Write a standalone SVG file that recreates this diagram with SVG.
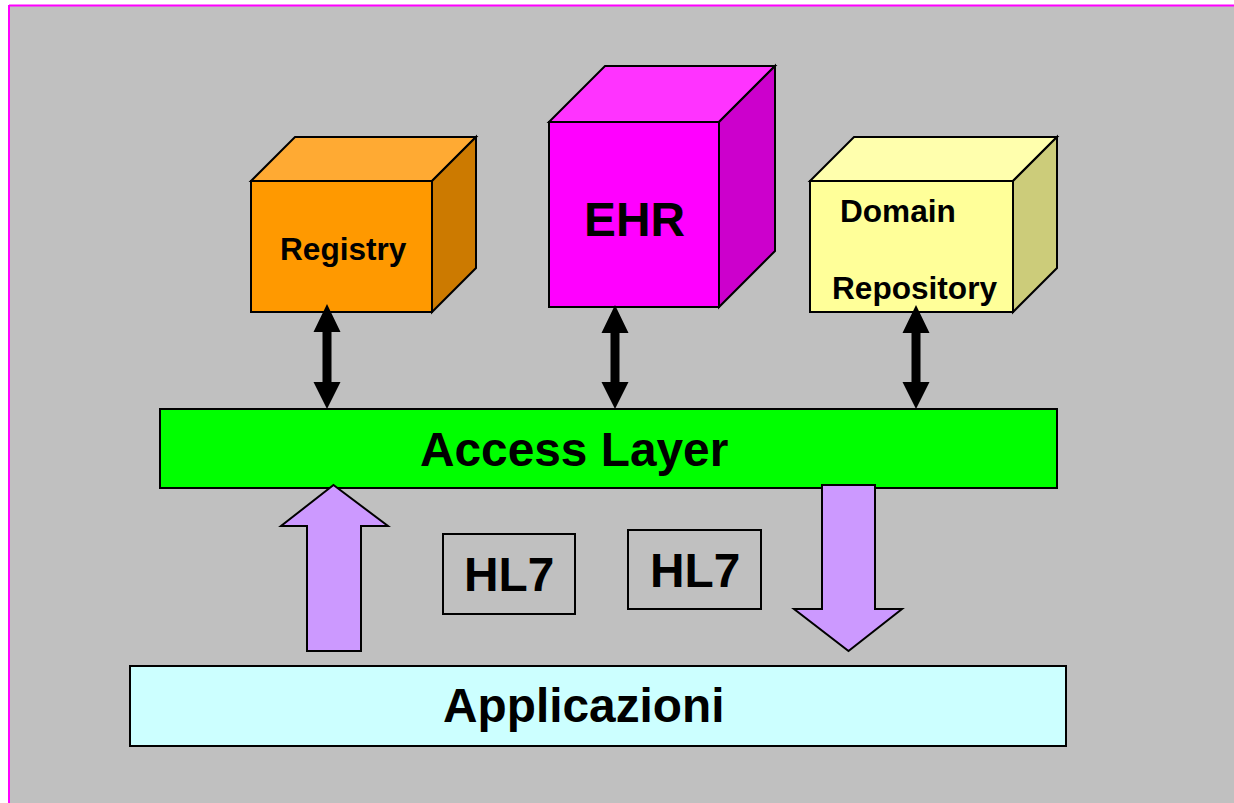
<svg xmlns="http://www.w3.org/2000/svg" width="1234" height="803" viewBox="0 0 1234 803">
  <style>
    .edge { stroke: #000; stroke-width: 2; stroke-linejoin: miter; }
    .lbl { font-family: "Liberation Sans", Arial, sans-serif; font-weight: bold; fill: #000; }
    .small { font-size: 31.6px; }
    .big { font-size: 47.8px; }
    .flow { fill: #CC99FF; stroke: #000; stroke-width: 2; }
  </style>

  <!-- slide background with frame -->
  <rect x="0" y="0" width="1234" height="803" fill="#FFFFFF"/>
  <rect x="9" y="6" width="1225" height="797" fill="#C0C0C0"/>
  <line x1="9" y1="5.5" x2="1234" y2="5.5" stroke="#FF00FF" stroke-width="2"/>
  <line x1="9" y1="5" x2="9" y2="803" stroke="#FF00FF" stroke-width="2"/>

  <!-- Registry cube -->
  <g id="registry">
    <polygon class="edge" fill="#FFAA33" points="251,181 295,137 476,137 432,181"/>
    <polygon class="edge" fill="#CC7A00" points="432,181 476,137 476,268 432,312"/>
    <rect class="edge" x="251" y="181" width="181" height="131" fill="#FF9900"/>
    <text class="lbl small" x="280" y="260">Registry</text>
  </g>

  <!-- EHR cube -->
  <g id="ehr">
    <polygon class="edge" fill="#FF33FF" points="549,122 605,66 775,66 719,122"/>
    <polygon class="edge" fill="#CC00CC" points="719,122 775,66 775,251 719,307"/>
    <rect class="edge" x="549" y="122" width="170" height="185" fill="#FF00FF"/>
    <text class="lbl big" x="584" y="236">EHR</text>
  </g>

  <!-- Domain Repository cube -->
  <g id="domain-repository">
    <polygon class="edge" fill="#FFFFAD" points="810,181 854,137 1057,137 1013,181"/>
    <polygon class="edge" fill="#CCCC7A" points="1013,181 1057,137 1057,268 1013,312"/>
    <rect class="edge" x="810" y="181" width="203" height="131" fill="#FFFF99"/>
    <text class="lbl small" x="840" y="222">Domain</text>
    <text class="lbl small" x="832" y="299">Repository</text>
  </g>

  <!-- Access Layer bar -->
  <g id="access-layer">
    <rect class="edge" x="160" y="409" width="897" height="79" fill="#00FF00"/>
    <text class="lbl big" x="420" y="466">Access Layer</text>
  </g>

  <!-- Applicazioni bar -->
  <g id="applicazioni">
    <rect class="edge" x="130" y="666" width="936" height="80" fill="#CCFFFF"/>
    <text class="lbl big" x="443" y="722">Applicazioni</text>
  </g>

  <!-- HL7 labels -->
  <g id="hl7-in">
    <rect class="edge" x="443" y="534" width="132" height="80" fill="none"/>
    <text class="lbl big" x="464" y="591">HL7</text>
  </g>
  <g id="hl7-out">
    <rect class="edge" x="628" y="530" width="133" height="79" fill="none"/>
    <text class="lbl big" x="650" y="587">HL7</text>
  </g>

  <!-- connectors -->
  <g id="connectors">
    <!-- bidirectional links between stores and the access layer -->
    <polygon fill="#000" points="327,304 340.5,332 331.5,332 331.5,382 340.5,382 327,409 313.5,382 322.5,382 322.5,332 313.5,332"/>
    <polygon fill="#000" points="615,305 628.5,333 619.5,333 619.5,382 628.5,382 615,409 601.5,382 610.5,382 610.5,333 601.5,333"/>
    <polygon fill="#000" points="916,305 929.5,333 920.5,333 920.5,382 929.5,382 916,409 902.5,382 911.5,382 911.5,333 902.5,333"/>
    <!-- requests from applications up to the access layer -->
    <polygon class="flow" points="333.5,485 388,526 361,526 361,651 307,651 307,526 281,526"/>
    <!-- responses from the access layer down to applications -->
    <polygon class="flow" points="822,485 875,485 875,609 902,609 848.5,651 794,609 822,609"/>
  </g>
</svg>
